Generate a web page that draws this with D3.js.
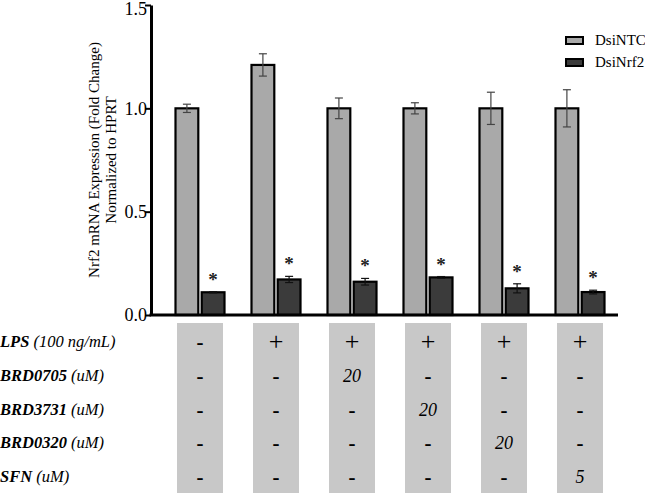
<!DOCTYPE html>
<html><head><meta charset="utf-8">
<script src="https://cdn.jsdelivr.net/npm/d3@7"></script>
<style>body{margin:0;background:#fff}svg{display:block}</style>
</head><body><svg id="c" width="645" height="493"></svg>
<script>
const groups = ["G1","G2","G3","G4","G5","G6"];
const series = ["DsiNTC","DsiNrf2"];
const ntcMean = [1.0, 1.21, 1.0, 1.0, 1.0, 1.0];
const ntcErr  = [0.02, 0.054, 0.05, 0.027, 0.078, 0.09];
const nrfMean = [0.11, 0.172, 0.161, 0.182, 0.129, 0.111];
const nrfErr  = [0.003, 0.015, 0.016, 0.004, 0.022, 0.009];
const yTicks = [0, 0.5, 1.0, 1.5];
const rowLabels = [["LPS"," (100 ng/mL)"],["BRD0705"," (uM)"],["BRD3731"," (uM)"],["BRD0320"," (uM)"],["SFN"," (uM)"]];
const tableVals = [
  ["-","+","+","+","+","+"],
  ["-","-","20","-","-","-"],
  ["-","-","-","20","-","-"],
  ["-","-","-","-","20","-"],
  ["-","-","-","-","-","5"]
];
const colors = {DsiNTC:"#a9a9a9", DsiNrf2:"#3b3b3b"};
const FF = "'Liberation Serif','Times New Roman',serif";

const svg = d3.select("#c");
const y = d3.scaleLinear().domain([0,1.5]).range([315,5]);
const x0 = d3.scalePoint().domain(groups).range([200,580]);
const x1 = d3.scaleBand().domain(series).range([-24.5,24.5]).paddingInner(0.13);

const data = groups.map((g,i)=>({g, vals:[
  {s:"DsiNTC", m:ntcMean[i], e:ntcErr[i]},
  {s:"DsiNrf2", m:nrfMean[i], e:nrfErr[i]}]}));

// table backgrounds
const rowY = d3.scalePoint().domain(d3.range(5)).range([342,477]);
svg.selectAll("rect.tb").data(groups).join("rect")
  .attr("x", g=>x0(g)-23).attr("width",46)
  .attr("y",323).attr("height",170).attr("fill","#c8c8c8");

// bars
const gg = svg.selectAll("g.grp").data(data).join("g").attr("transform",d=>`translate(${x0(d.g)},0)`);
gg.selectAll("rect").data(d=>d.vals).join("rect")
  .attr("x",d=>x1(d.s)).attr("width",x1.bandwidth())
  .attr("y",d=>y(d.m)).attr("height",d=>y(0)-y(d.m))
  .attr("fill",d=>colors[d.s]).attr("stroke","#000").attr("stroke-width",2.2);
// error bars
gg.selectAll("g.err").data(d=>d.vals).join("g").each(function(d){
  const cx = x1(d.s)+x1.bandwidth()/2, g=d3.select(this);
  const st = d.s==="DsiNTC" ? "#444" : "#111";
  g.append("line").attr("x1",cx).attr("x2",cx).attr("y1",y(d.m+d.e)).attr("y2",y(d.m-d.e)).attr("stroke",st).attr("stroke-width",1.2);
  g.append("line").attr("x1",cx-4).attr("x2",cx+4).attr("y1",y(d.m+d.e)).attr("y2",y(d.m+d.e)).attr("stroke",st).attr("stroke-width",1.2);
  g.append("line").attr("x1",cx-4).attr("x2",cx+4).attr("y1",y(d.m-d.e)).attr("y2",y(d.m-d.e)).attr("stroke",st).attr("stroke-width",1.2);
  if(d.s==="DsiNrf2"){
    g.append("text").attr("x",cx).attr("y",y(d.m+d.e)-6).attr("text-anchor","middle")
      .style("font-family",FF).attr("font-size",19).attr("font-weight","bold").attr("fill","#222").text("*");
  }
});

// axes
const yAxis = d3.axisLeft(y).tickValues(yTicks).tickFormat(d3.format(".1f")).tickSize(6).tickSizeOuter(0);
const ya = svg.append("g").attr("transform","translate(151,0)").call(yAxis);
ya.select(".domain").attr("stroke","#000").attr("stroke-width",3);
ya.selectAll(".tick line").attr("stroke","#000").attr("stroke-width",2);
ya.selectAll(".tick text").attr("font-size",18).attr("fill","#000").attr("x",-4)
  .style("font-family",FF).attr("dy",d=>d===1.5?"0.55em":"0.32em");
svg.append("line").attr("x1",149.5).attr("x2",618).attr("y1",y(0)).attr("y2",y(0)).attr("stroke","#000").attr("stroke-width",3);

// y title
const yt = svg.append("text").attr("transform","translate(99,160) rotate(-90)").attr("text-anchor","middle")
  .attr("font-size",15).style("font-family",FF);
yt.append("tspan").attr("x",0).attr("dy",0).text("Nrf2 mRNA Expression (Fold Change)");
yt.append("tspan").attr("x",0).attr("dy",17).text("Normalized to HPRT");

// legend
const lg = svg.selectAll("g.lg").data(series).join("g").attr("transform",(d,i)=>`translate(566,${37+i*22})`);
lg.append("rect").attr("width",17).attr("height",7).attr("fill",d=>colors[d]).attr("stroke","#000").attr("stroke-width",2);
lg.append("text").attr("x",29).attr("y",8).attr("font-size",15).style("font-family",FF).text(d=>d);

// table row labels
rowLabels.forEach((r,i)=>{
  const t = svg.append("text").attr("x",0).attr("y",rowY(i)+5).attr("font-size",16.5).attr("font-style","italic").style("font-family",FF);
  t.append("tspan").attr("font-weight","bold").text(r[0]);
  t.append("tspan").text(r[1]);
});
// table values
tableVals.forEach((row,i)=>{
  row.forEach((v,j)=>{
    const t = svg.append("text").attr("x",x0(groups[j])).attr("y",rowY(i)+6).attr("text-anchor","middle").style("font-family",FF);
    if(v==="+") t.attr("font-size",26).attr("y",rowY(i)+8).text("+");
    else if(v==="-") t.attr("font-size",21).attr("font-weight","bold").attr("y",rowY(i)+7).text("-");
    else t.attr("font-size",18).attr("font-style","italic").text(v);
  });
});
</script></body></html>
